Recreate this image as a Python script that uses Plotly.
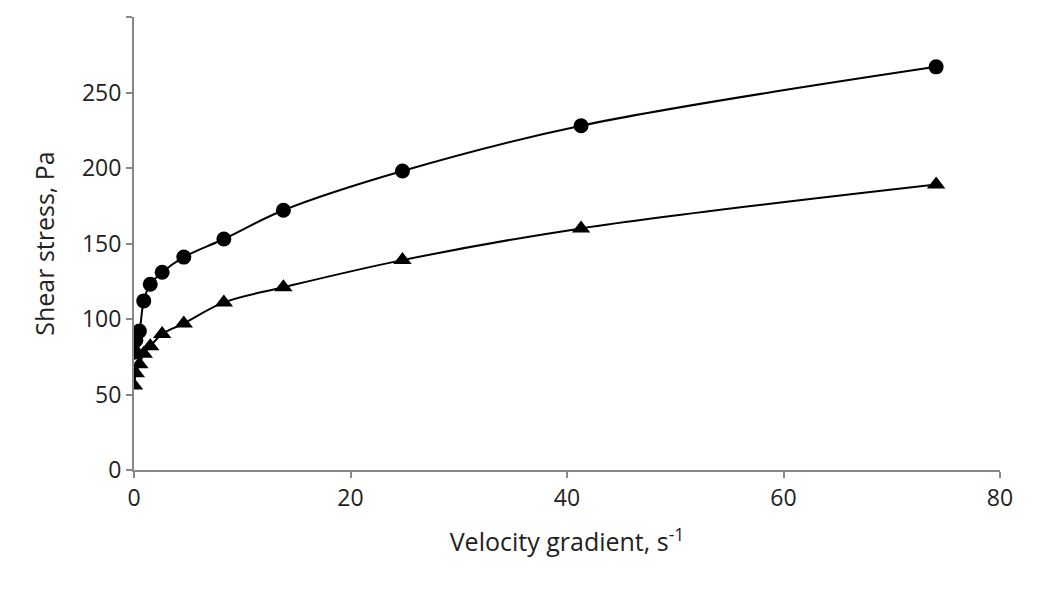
import plotly.graph_objects as go

x = [0.0, 0.17, 0.5, 0.9, 1.5, 2.6, 4.6, 8.3, 13.8, 24.8, 41.3, 74.1]
circles = [78, 86, 92, 112, 123, 131, 141, 153, 172, 198, 228, 267]
triangles = [56, 64, 70, 77, 82, 90, 97, 111, 121, 139, 160, 189]

fig = go.Figure()
fig.add_trace(go.Scatter(x=x, y=circles, mode="lines+markers",
    line=dict(color="black", width=2, shape="spline"),
    marker=dict(symbol="circle", size=15, color="black")))
fig.add_trace(go.Scatter(x=x, y=triangles, mode="lines+markers",
    line=dict(color="black", width=2, shape="spline"),
    marker=dict(symbol="triangle-up", size=16, color="black")))

axis_common = dict(showline=True, linecolor="#888", linewidth=2, ticks="outside",
                   tickcolor="#888", ticklen=6, tickwidth=2, showgrid=False, zeroline=False,
                   tickfont=dict(size=23, color="#222"))
fig.update_layout(
    width=1058, height=606, showlegend=False,
    plot_bgcolor="white", paper_bgcolor="white",
    font=dict(family="Open Sans, Liberation Sans, sans-serif", color="#222"),
    margin=dict(l=126, r=66, t=9, b=144),
    xaxis=dict(range=[0, 80], dtick=20, title=dict(text="Velocity gradient, s<sup>-1</sup>", font=dict(size=25), standoff=22), **axis_common),
    yaxis=dict(range=[0, 300], dtick=50, title=dict(text="Shear stress, Pa", font=dict(size=25), standoff=20), **axis_common),
)
fig.write_html("out.html")
